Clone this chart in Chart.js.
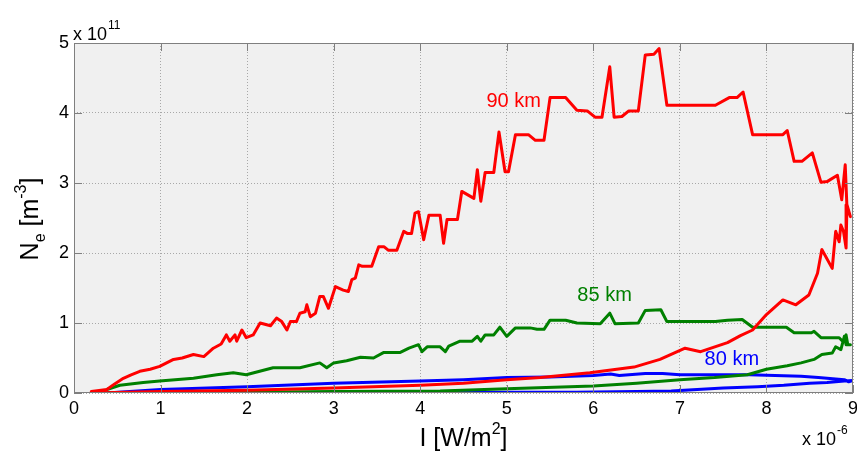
<!DOCTYPE html>
<html>
<head>
<meta charset="utf-8">
<script src="https://cdn.jsdelivr.net/npm/chart.js@4/dist/chart.umd.min.js"></script>
<style>
  html, body { margin: 0; padding: 0; background: #fff; }
  #plot { display: block; }
</style>
</head>
<body>
<canvas id="plot" width="857" height="452"></canvas>
<script>
// Ne vs I loops for three heights (I in 1e-6 W/m2, Ne in 1e11 m^-3).
// Each path goes out along the upper branch and comes back along the lower one.

const red90I = [
  0.20, 0.38, 0.47, 0.57, 0.66, 0.76, 0.88, 0.99, 1.07, 1.15, 1.25, 1.38, 1.50, 1.61, 1.70, 1.76,
  1.80, 1.86, 1.88, 1.94, 1.99, 2.07,
  2.15, 2.27, 2.34, 2.40, 2.46, 2.50, 2.57, 2.61, 2.67, 2.69, 2.73, 2.79, 2.84, 2.88, 2.94, 3.02,
  3.11, 3.17, 3.21, 3.25, 3.29, 3.33, 3.44, 3.52, 3.58, 3.63, 3.73, 3.81, 3.85, 3.90, 3.94, 3.98,
  4.04, 4.10, 4.23, 4.27, 4.31, 4.43, 4.48, 4.62, 4.66, 4.70, 4.75, 4.85, 4.91, 4.98, 5.02, 5.10,
  5.25, 5.33, 5.43, 5.50, 5.68, 5.81, 5.93, 6.02, 6.10, 6.19, 6.24, 6.33, 6.41, 6.52, 6.60, 6.70,
  6.76, 6.85, 7.41, 7.57, 7.66, 7.73, 7.84, 8.19, 8.24, 8.32, 8.41, 8.53, 8.63, 8.70, 8.82, 8.87,
  8.91, 8.93, 8.97,
  8.93, 8.92, 8.89, 8.86, 8.84, 8.80, 8.76, 8.64, 8.59, 8.49, 8.34, 8.19, 8.00, 7.84, 7.70, 7.55,
  7.24, 7.06, 6.77, 6.47, 5.96, 5.39, 5.00, 4.50, 4.00, 3.00, 2.00, 1.00, 0.22
];
const red90Ne = [
  0.02, 0.05, 0.13, 0.21, 0.26, 0.31, 0.34, 0.38, 0.43, 0.48, 0.50, 0.55, 0.52, 0.64, 0.70, 0.83,
  0.74, 0.83, 0.74, 0.90, 0.79, 0.83,
  1.00, 0.96, 1.07, 1.02, 0.90, 1.02, 1.02, 1.14, 1.16, 1.26, 1.09, 1.14, 1.38, 1.38, 1.21, 1.52,
  1.47, 1.45, 1.62, 1.64, 1.83, 1.81, 1.81, 2.09, 2.09, 2.04, 2.04, 2.31, 2.28, 2.28, 2.57, 2.59,
  2.19, 2.54, 2.54, 2.14, 2.48, 2.48, 2.88, 2.78, 3.19, 2.74, 3.15, 3.15, 3.73, 3.16, 3.16, 3.69,
  3.69, 3.61, 3.61, 4.22, 4.22, 4.04, 4.03, 3.94, 3.94, 4.66, 3.94, 3.95, 4.03, 4.03, 4.83, 4.84,
  4.92, 4.11, 4.11, 4.22, 4.22, 4.30, 3.69, 3.69, 3.75, 3.31, 3.31, 3.43, 3.01, 3.02, 3.11, 2.76,
  3.26, 2.66, 2.52,
  2.69, 2.07, 2.31, 2.40, 2.16, 2.31, 1.78, 2.05, 1.71, 1.40, 1.26, 1.33, 1.12, 0.90, 0.82, 0.72,
  0.59, 0.64, 0.48, 0.37, 0.29, 0.22, 0.19, 0.14, 0.11, 0.07, 0.04, 0.02, 0.00
];

const green85I = [
  0.38, 0.53, 0.80, 0.99, 1.38, 1.65, 1.84, 1.99, 2.30, 2.61, 2.84, 2.92, 3.00, 3.15, 3.31, 3.46,
  3.58, 3.77, 3.87, 3.98, 4.02, 4.08, 4.23, 4.29, 4.33, 4.46, 4.60, 4.66, 4.70, 4.75, 4.85, 4.92,
  5.00, 5.10, 5.27, 5.35, 5.43, 5.50, 5.68, 5.81, 6.08, 6.19, 6.25, 6.52, 6.60, 6.78, 6.85, 7.41,
  7.55, 7.72, 7.84, 8.23, 8.32, 8.52, 8.55, 8.63, 8.84, 8.88, 8.92, 8.94, 8.97,
  8.92, 8.90, 8.86, 8.80, 8.76, 8.64, 8.55, 8.40, 8.24, 8.00, 7.78, 7.40, 7.00, 6.50, 6.00, 5.00,
  4.23, 3.00, 2.00, 1.00, 0.38
];
const green85Ne = [
  0.05, 0.11, 0.15, 0.17, 0.21, 0.26, 0.29, 0.26, 0.36, 0.36, 0.43, 0.36, 0.43, 0.46, 0.51, 0.50,
  0.58, 0.58, 0.64, 0.69, 0.59, 0.66, 0.66, 0.59, 0.67, 0.74, 0.74, 0.81, 0.74, 0.83, 0.83, 0.94,
  0.81, 0.93, 0.93, 0.91, 0.91, 1.04, 1.04, 1.00, 0.99, 1.14, 0.99, 1.00, 1.18, 1.19, 1.02, 1.02,
  1.04, 1.05, 0.94, 0.94, 0.86, 0.86, 0.88, 0.79, 0.79, 0.74, 0.83, 0.69, 0.69,
  0.69, 0.81, 0.62, 0.66, 0.57, 0.55, 0.48, 0.43, 0.39, 0.34, 0.26, 0.22, 0.19, 0.14, 0.10, 0.06,
  0.03, 0.02, 0.01, 0.01, 0.00
];

const blue80I = [
  0.38, 1.00, 2.00, 3.00, 4.00, 4.50, 5.00, 5.50, 6.00, 6.20, 6.30, 6.60, 6.80, 7.00, 7.50, 7.80,
  8.10, 8.40, 8.60, 8.80, 8.90, 8.95, 9.00,
  8.90, 8.70, 8.50, 8.20, 7.90, 7.50, 7.20, 6.90, 6.50, 5.80, 5.00, 4.00, 3.00, 2.00, 1.00, 0.38
];
const blue80Ne = [
  0.00, 0.05, 0.09, 0.14, 0.17, 0.19, 0.22, 0.23, 0.25, 0.27, 0.25, 0.28, 0.28, 0.26, 0.26, 0.26,
  0.25, 0.24, 0.22, 0.20, 0.19, 0.16, 0.18,
  0.17, 0.15, 0.14, 0.11, 0.09, 0.07, 0.05, 0.03, 0.02, 0.01, 0.01, 0.00, 0.00, 0.00, 0.00, 0.00
];

// curve labels: text, I, Ne
const curveLabels = ['90 km', '85 km', '80 km'];
const labelI = [5.08, 6.13, 7.60];
const labelNe = [4.16, 1.39, 0.48];
const labelColors = ['#ff0000', '#008000', '#0000ff'];

const FONT = '"Liberation Sans", Arial, Helvetica, sans-serif';

const toPoints = (xs, ys) => xs.map((x, i) => ({ x, y: ys[i] }));

const lineSet = (label, xs, ys, color) => ({
  label,
  data: toPoints(xs, ys),
  showLine: true,
  borderColor: color,
  backgroundColor: color,
  borderWidth: 3,
  pointRadius: 0,
  tension: 0,
  borderJoinStyle: 'round',
  borderCapStyle: 'round'
});

// "x 10" with a raised exponent, starting at x
function drawExponent(ctx, x, baseline, power) {
  ctx.font = '18px ' + FONT;
  ctx.fillText('x 10', x, baseline);
  const w = ctx.measureText('x 10').width;
  ctx.font = '12px ' + FONT;
  ctx.fillText(power, x + w + 1, baseline - 11);
}

// grey axes box, background and inward ticks
const axesBox = {
  id: 'axesBox',
  beforeDraw(chart) {
    const { ctx, chartArea: a } = chart;
    ctx.save();
    ctx.fillStyle = '#f0f0f0';
    ctx.fillRect(a.left, a.top, a.right - a.left, a.bottom - a.top);
    ctx.restore();
  },
  afterDraw(chart) {
    const { ctx, chartArea: a, scales } = chart;
    ctx.save();
    ctx.strokeStyle = '#7f7f7f';
    ctx.lineWidth = 1;
    ctx.strokeRect(a.left + 0.5, a.top + 0.5, a.right - a.left - 1, a.bottom - a.top - 1);
    ctx.beginPath();
    const tl = 8;
    scales.x.ticks.forEach(t => {
      const px = Math.round(scales.x.getPixelForValue(t.value)) + 0.5;
      ctx.moveTo(px, a.bottom); ctx.lineTo(px, a.bottom - tl);
      ctx.moveTo(px, a.top); ctx.lineTo(px, a.top + tl);
    });
    scales.y.ticks.forEach(t => {
      const py = Math.round(scales.y.getPixelForValue(t.value)) + 0.5;
      ctx.moveTo(a.left, py); ctx.lineTo(a.left + tl, py);
      ctx.moveTo(a.right, py); ctx.lineTo(a.right - tl, py);
    });
    ctx.stroke();

    ctx.fillStyle = '#000';
    ctx.textBaseline = 'alphabetic';
    ctx.textAlign = 'left';
    drawExponent(ctx, a.left - 1, 40, '11');
    drawExponent(ctx, 802, 445, '-6');

    // x title: I [W/m^2]
    const big = '25px ' + FONT, small = '16px ' + FONT;
    const xParts = [['I [W/m', big, 0], ['2', small, -12], [']', big, 0]];
    drawParts(ctx, xParts, (a.left + a.right) / 2, 446);

    // y title: N_e [m^-3], rotated
    ctx.translate(38, 219);
    ctx.rotate(-Math.PI / 2);
    const yParts = [['N', big, 0], ['e', small, 7], [' [m', big, 0], ['-3', small, -12], [']', big, 0]];
    drawParts(ctx, yParts, 0, 0);
    ctx.restore();
  }
};

// draws mixed-size text centred on cx, each part with its own baseline shift
function drawParts(ctx, parts, cx, baseline) {
  let total = 0;
  parts.forEach(p => { ctx.font = p[1]; total += ctx.measureText(p[0]).width; });
  let x = cx - total / 2;
  ctx.textAlign = 'left';
  ctx.textBaseline = 'alphabetic';
  ctx.fillStyle = '#000';
  parts.forEach(p => {
    ctx.font = p[1];
    ctx.fillText(p[0], x, baseline + p[2]);
    x += ctx.measureText(p[0]).width;
  });
}

// height labels next to each curve
const curveText = {
  id: 'curveText',
  afterDatasetsDraw(chart) {
    const { ctx, scales } = chart;
    ctx.save();
    ctx.font = '20px ' + FONT;
    ctx.textAlign = 'center';
    ctx.textBaseline = 'middle';
    curveLabels.forEach((txt, i) => {
      ctx.fillStyle = labelColors[i];
      ctx.fillText(txt, scales.x.getPixelForValue(labelI[i]), scales.y.getPixelForValue(labelNe[i]));
    });
    ctx.restore();
  }
};

new Chart(document.getElementById('plot').getContext('2d'), {
  type: 'scatter',
  data: {
    datasets: [
      lineSet('90 km', red90I, red90Ne, '#ff0000'),
      lineSet('85 km', green85I, green85Ne, '#008000'),
      lineSet('80 km', blue80I, blue80Ne, '#0000ff')
    ]
  },
  options: {
    responsive: false,
    animation: false,
    layout: { padding: { left: 0, right: 4, top: 43, bottom: 0 } },
    plugins: {
      legend: { display: false },
      tooltip: { enabled: false }
    },
    scales: {
      x: {
        type: 'linear',
        min: 0,
        max: 9,
        ticks: { stepSize: 1, padding: 5, color: '#000', font: { size: 18, family: FONT } },
        grid: { color: '#a8a8a8', drawTicks: false, lineWidth: 1 },
        border: { display: false, dash: [1, 2] },
        afterFit(s) {
          s.height = 59;
          s.paddingLeft = 0;
          s.paddingRight = 0;
        }
      },
      y: {
        type: 'linear',
        min: 0,
        max: 5,
        ticks: { stepSize: 1, padding: 5, color: '#000', font: { size: 18, family: FONT } },
        grid: { color: '#a8a8a8', drawTicks: false, lineWidth: 1 },
        border: { display: false, dash: [1, 2] },
        afterFit(s) {
          s.width = 74;
          s.paddingTop = 0;
          s.paddingBottom = 0;
        }
      }
    }
  },
  plugins: [axesBox, curveText]
});
</script>
</body>
</html>
